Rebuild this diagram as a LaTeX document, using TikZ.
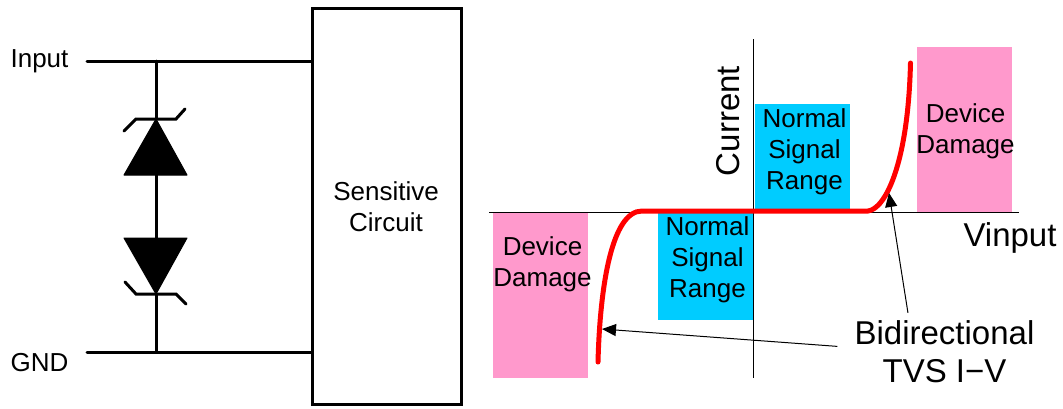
\documentclass[tikz,border=0pt]{standalone}
\usepackage{fontspec}
\setmainfont{Liberation Sans}
\usetikzlibrary{arrows.meta}
\definecolor{damagepink}{HTML}{FF99CC}
\definecolor{rangeblue}{HTML}{00CCFF}
\tikzset{
	wire/.style={line width=3pt, line cap=round},
	axisline/.style={line width=1pt},
	leader/.style={line width=1pt, -{Triangle[length=14pt,width=12pt]}},
	smalltxt/.style={font=\fontsize{26}{31}\selectfont, align=center, inner sep=0pt},
	bigtxt/.style={font=\fontsize{33}{38}\selectfont, align=center, inner sep=0pt},
	damagebox/.style={fill=damagepink, minimum width=95pt, inner sep=0pt},
	rangebox/.style={fill=rangeblue, minimum width=95pt, minimum height=108pt, inner sep=0pt},
}
\begin{document}
\begin{tikzpicture}[x=1pt,y=-1pt]
	\useasboundingbox (0,0) rectangle (1063,408);

	% circuit
	\node [draw, wire, minimum width=149pt, minimum height=396pt, inner sep=0pt] (circuit) at (386.5,206) {};
	\node [smalltxt] at (386,206.5) {Sensitive\\Circuit};
	\node [smalltxt] (input) at (39.5,61.5) {Input};
	\node [smalltxt] (gnd) at (39.5,362.5) {GND};
	\coordinate (inl) at (87,61);
	\coordinate (inj) at (156,61);
	\coordinate (inr) at (312,61);
	\coordinate (gndl) at (87,352);
	\coordinate (gndj) at (156,352);
	\coordinate (gndr) at (312,352);
	\draw [wire] (inl) -- (inr);
	\draw [wire] (gndl) -- (gndr);

	% clamps
	\coordinate (upper) at (156,119);
	\coordinate (lower) at (156,294);
	\draw [wire, fill=black, line join=round, line width=1pt] (upper) -- (187,175) -- (124,175) -- cycle;
	\draw [wire, fill=black, line join=round, line width=1pt] (lower) -- (187,238) -- (124,238) -- cycle;
	\draw [wire] (124,131) -- (136,119) -- (176,119) -- (185,109);
	\draw [wire] (125,282) -- (136,294) -- (176,294) -- (186,304);
	\draw [wire] (inj) -- (upper);
	\draw [wire] (156,175) -- (156,238);
	\draw [wire] (lower) -- (gndj);

	% plot
	\node [damagebox, minimum height=165pt] (dmgtop) at (964.5,129.5) {};
	\node [damagebox, minimum height=166pt] (dmgbot) at (540,295) {};
	\node [rangebox] (rngtop) at (802.5,158) {};
	\node [rangebox] (rngbot) at (705,266) {};
	\coordinate (xleft) at (489,212);
	\coordinate (xright) at (1019,212);
	\coordinate (ytop) at (753,39);
	\coordinate (ybot) at (753,378);
	\draw [axisline] (xleft) -- (xright);
	\draw [axisline] (ytop) -- (ybot);

	\node [smalltxt] at (965.5,131) {Device\\Damage};
	\node [smalltxt] at (542.5,264) {Device\\Damage};
	\node [smalltxt] at (804.5,151.5) {Normal\\Signal\\Range};
	\node [smalltxt] at (707.5,259.5) {Normal\\Signal\\Range};
	\node [bigtxt, rotate=90] at (728,121) {Current};
	\node [bigtxt] at (1010,238) {Vinput};

	% curve
	\draw [red, line width=5pt, line cap=round] (598,362) .. controls (600,285) and (612,211) .. (642,211)
		-- (868,211) .. controls (885,209) and (908,165) .. (910.5,63);

	\node [bigtxt, minimum width=214pt, minimum height=78pt] (tvs) at (944.5,352) {Bidirectional\\TVS I−V};
	\coordinate (tiptop) at (889,193);
	\coordinate (tipbot) at (602,329);
	\path [leader] (tvs.133) edge (tiptop);
	\path [leader] (tvs.177) edge (tipbot);
\end{tikzpicture}
\end{document}
